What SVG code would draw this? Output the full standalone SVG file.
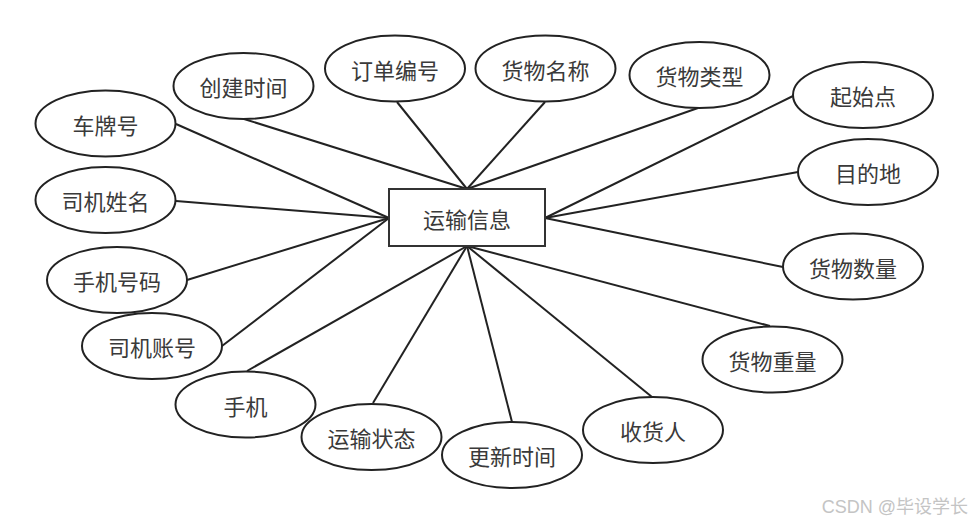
<svg xmlns="http://www.w3.org/2000/svg" width="974" height="524" viewBox="0 0 974 524">
<style>
.n ellipse{fill:#fff;stroke:#222;stroke-width:2}
.n rect{fill:#fff;stroke:#333;stroke-width:2}
.n text{font-family:"Noto Sans CJK SC","Noto Sans",sans-serif;font-size:22px;fill:#3a3a3a;text-anchor:middle;dominant-baseline:central}
#edges line{stroke:#222;stroke-width:2}
.wm{font-family:"Liberation Sans","Noto Sans CJK SC",sans-serif;font-size:18px;fill:#c4c4c4}
</style>
<rect width="974" height="524" fill="#fff"/>
<g id="edges">
<line x1="244" y1="119" x2="467" y2="189"/>
<line x1="176" y1="124" x2="389" y2="218"/>
<line x1="176" y1="201" x2="389" y2="218"/>
<line x1="187" y1="280" x2="389" y2="218"/>
<line x1="222" y1="346" x2="389" y2="218"/>
<line x1="397" y1="102" x2="467" y2="189"/>
<line x1="545" y1="102" x2="467" y2="189"/>
<line x1="698" y1="108" x2="467" y2="189"/>
<line x1="793" y1="96" x2="545" y2="218"/>
<line x1="798" y1="172" x2="545" y2="218"/>
<line x1="783" y1="267" x2="545" y2="218"/>
<line x1="770" y1="326" x2="467" y2="246"/>
<line x1="652" y1="397" x2="467" y2="246"/>
<line x1="512" y1="422" x2="467" y2="246"/>
<line x1="373" y1="403" x2="467" y2="246"/>
<line x1="247" y1="371" x2="467" y2="246"/>
</g>
<g id="center" class="n"><rect x="389" y="189" width="156" height="57"/><text x="467" y="218">运输信息</text></g>
<g id="n1" class="n"><ellipse cx="243.5" cy="86" rx="70" ry="33"/><text x="243.5" y="86">创建时间</text></g>
<g id="n2" class="n"><ellipse cx="105.5" cy="123.5" rx="70" ry="33"/><text x="105.5" y="124">车牌号</text></g>
<g id="n3" class="n"><ellipse cx="105.5" cy="200" rx="70" ry="33"/><text x="105.5" y="200">司机姓名</text></g>
<g id="n4" class="n"><ellipse cx="117" cy="280" rx="70" ry="33"/><text x="117" y="280">手机号码</text></g>
<g id="n5" class="n"><ellipse cx="152" cy="346" rx="70" ry="33"/><text x="152" y="346">司机账号</text></g>
<g id="n6" class="n"><ellipse cx="245.5" cy="404.5" rx="70" ry="33"/><text x="245.5" y="405">手机</text></g>
<g id="n7" class="n"><ellipse cx="371.5" cy="437" rx="70" ry="33"/><text x="371.5" y="437">运输状态</text></g>
<g id="n8" class="n"><ellipse cx="512" cy="455" rx="70" ry="33"/><text x="512" y="455">更新时间</text></g>
<g id="n9" class="n"><ellipse cx="653" cy="430" rx="70" ry="33"/><text x="653" y="430">收货人</text></g>
<g id="n10" class="n"><ellipse cx="772.5" cy="359.5" rx="70" ry="33"/><text x="772.5" y="360">货物重量</text></g>
<g id="n11" class="n"><ellipse cx="853" cy="266.5" rx="70" ry="33"/><text x="853" y="267">货物数量</text></g>
<g id="n12" class="n"><ellipse cx="868" cy="172" rx="70" ry="33"/><text x="868" y="172">目的地</text></g>
<g id="n13" class="n"><ellipse cx="863" cy="95" rx="70" ry="33"/><text x="863" y="95">起始点</text></g>
<g id="n14" class="n"><ellipse cx="699.5" cy="75" rx="70" ry="33"/><text x="699.5" y="75">货物类型</text></g>
<g id="n15" class="n"><ellipse cx="545.5" cy="68.5" rx="70" ry="33"/><text x="545.5" y="69">货物名称</text></g>
<g id="n16" class="n"><ellipse cx="395" cy="68.5" rx="70" ry="33"/><text x="395" y="69">订单编号</text></g>
<text class="wm" x="968" y="513" text-anchor="end">CSDN @毕设学长</text>
</svg>
